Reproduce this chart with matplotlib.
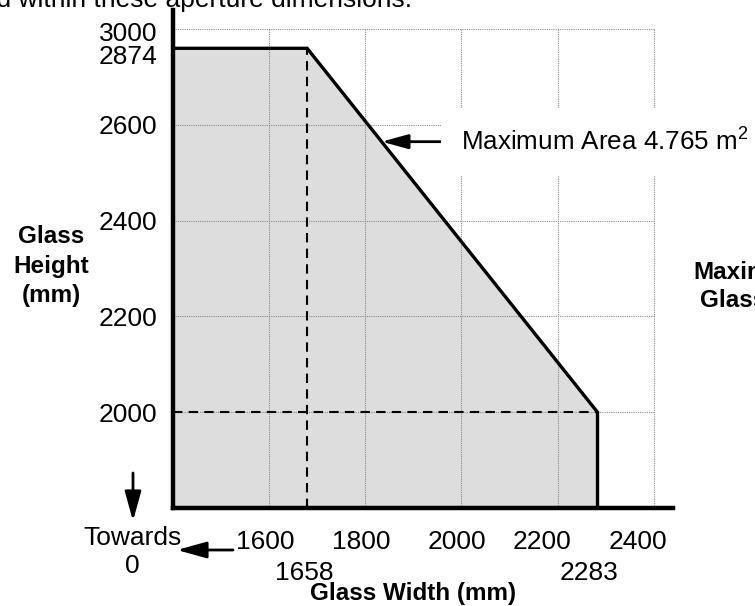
import numpy as np
import matplotlib
matplotlib.use('Agg')
import matplotlib.pyplot as plt
from matplotlib.transforms import ScaledTranslation

plt.rcParams['font.family'] = ['Liberation Sans', 'DejaVu Sans']
plt.rcParams['mathtext.default'] = 'regular'

# aperture outline (glass width / glass height, mm)
corner_w = [1400, 1658, 2283, 2283]
corner_h = [2874, 2874, 2000, 1800]
max_w, max_h = 1658, 2874
min_h, max_w_edge = 2000, 2283
area_y = 2565

grid_x = [1600, 1800, 2000, 2200, 2400]
grid_y = [2000, 2200, 2400, 2600, 3000]
ytick_vals = [2000, 2200, 2400, 2600, 2874, 3000]
xtick_major = [1600, 1800, 2000, 2200, 2400]
xtick_minor = [1658, 2283]
area_label = 'Maximum Area 4.765 m$^2$'

# schematic (non-linear) axes: knots of data -> drawn position
x_knots, x_pos = [1400, 1600, 1658, 1800, 2440], [1400, 1600, 1679, 1800, 2440]
y_knots, y_pos = [1800, 2600, 2874, 3000, 3100], [1800, 2600, 2760, 2800, 2840]


def piecewise(xp, fp):
    xp = np.asarray(xp, float)
    fp = np.asarray(fp, float)
    s0 = (fp[1] - fp[0]) / (xp[1] - xp[0])
    s1 = (fp[-1] - fp[-2]) / (xp[-1] - xp[-2])

    def f(v):
        v = np.asarray(v, float)
        out = np.interp(v, xp, fp)
        out = np.where(v < xp[0], fp[0] + (v - xp[0]) * s0, out)
        out = np.where(v > xp[-1], fp[-1] + (v - xp[-1]) * s1, out)
        return out
    return f


def fig_xy(px, py):
    return px / 755, 1 - py / 606


fig = plt.figure(figsize=(7.55, 6.06), dpi=100)
ax = fig.add_axes([173 / 755, 98 / 606, 500 / 755, 498 / 606])
ax.set_xscale('function', functions=(piecewise(x_knots, x_pos), piecewise(x_pos, x_knots)))
ax.set_yscale('function', functions=(piecewise(y_knots, y_pos), piecewise(y_pos, y_knots)))
ax.set_xlim(1400, 2440)
ax.set_ylim(1800, 3100)

# grey aperture region + outline
ax.fill_between(corner_w, corner_h, 1800, color='#dddddd', lw=0, zorder=1)
ax.vlines(grid_x, 1800, 3000, colors='#8a8a8a', linestyles=(0, (1, 1)), lw=0.8, zorder=2)
ax.hlines(grid_y, 1400, 2400, colors='#8a8a8a', linestyles=(0, (1, 1)), lw=0.8, zorder=2)
ax.plot([max_w, max_w], [1800, max_h], color='k', lw=1.5, ls=(0, (4.5, 3)), zorder=3)
ax.plot([1400, max_w_edge], [min_h, min_h], color='k', lw=1.5, ls=(0, (4.5, 3)), zorder=3)
ax.plot(corner_w, corner_h, color='k', lw=2.4, solid_joinstyle='miter', zorder=4)

for side in ['top', 'right']:
    ax.spines[side].set_visible(False)
for side in ['left', 'bottom']:
    ax.spines[side].set_linewidth(3.2)

ax.set_xticks(xtick_major)
ax.set_xticklabels([str(v) for v in xtick_major])
ax.set_xticks(xtick_minor, minor=True)
ax.set_xticklabels([str(v) for v in xtick_minor], minor=True)
ax.set_yticks(ytick_vals)
ax.set_yticklabels([str(v) for v in ytick_vals])
ax.tick_params(axis='x', which='major', length=0, pad=16, labelsize=19)
ax.tick_params(axis='x', which='minor', length=0, pad=38, labelsize=19)
ax.tick_params(axis='y', length=0, pad=11, labelsize=19)

# small nudges so labels sit like in the drawing
x_shift = {1600: -4, 1800: -4, 2000: -5, 2200: -16, 2400: -16, 1658: -3, 2283: -9}
for tick, v in zip(ax.xaxis.get_major_ticks(), xtick_major):
    tick.label1.set_transform(tick.label1.get_transform() + ScaledTranslation(x_shift[v] / 100, 0, fig.dpi_scale_trans))
for tick, v in zip(ax.xaxis.get_minor_ticks(), xtick_minor):
    tick.label1.set_transform(tick.label1.get_transform() + ScaledTranslation(x_shift[v] / 100, 0, fig.dpi_scale_trans))
y_shift = {3000: -2, 2874: -6}
for tick, v in zip(ax.yaxis.get_major_ticks(), ytick_vals):
    if v in y_shift:
        tick.label1.set_transform(tick.label1.get_transform() + ScaledTranslation(0, y_shift[v] / 100, fig.dpi_scale_trans))

# arrow tip on the sloped edge
fig.canvas.draw()
p1 = ax.transData.transform((max_w, max_h))
p2 = ax.transData.transform((max_w_edge, min_h))
yd = ax.transData.transform((max_w, area_y))[1]
xd = p1[0] + (yd - p1[1]) / (p2[1] - p1[1]) * (p2[0] - p1[0])
tip = ax.transData.inverted().transform((xd, yd))

ax.annotate(area_label, xy=tip, xytext=(2000, area_y), ha='left', va='center', fontsize=18.7,
            bbox=dict(boxstyle='square,pad=0.78', fc='white', ec='none'),
            arrowprops=dict(arrowstyle='-|>,head_length=0.8,head_width=0.22', color='k', lw=2,
                            mutation_scale=20, shrinkA=0, shrinkB=0), zorder=5)

# texts around the chart
fig.text(*fig_xy(51, 266), 'Glass\nHeight\n(mm)', ha='center', va='center', fontsize=17.5,
         fontweight='bold', linespacing=1.35)
fig.text(*fig_xy(413, 600), 'Glass Width (mm)', ha='center', va='baseline', fontsize=17.5, fontweight='bold')
fig.text(*fig_xy(412, 7), 'Glass must be contained within these aperture dimensions.', ha='right',
         va='baseline', fontsize=19)
fig.text(*fig_xy(693, 279), 'Maximum', ha='left', va='baseline', fontsize=17.5, fontweight='bold')
fig.text(*fig_xy(700, 307), 'Glass Area', ha='left', va='baseline', fontsize=17.5, fontweight='bold')
fig.text(*fig_xy(132, 552), 'Towards\n0', ha='center', va='center', fontsize=19, linespacing=1.2)

ax.annotate('', xy=fig_xy(133, 521), xytext=fig_xy(133, 473), xycoords='figure fraction',
            arrowprops=dict(arrowstyle='-|>,head_length=0.9,head_width=0.25', color='k', lw=2,
                            mutation_scale=20, shrinkA=0, shrinkB=0), annotation_clip=False)
ax.annotate('', xy=fig_xy(177, 550), xytext=fig_xy(233, 550), xycoords='figure fraction',
            arrowprops=dict(arrowstyle='-|>,head_length=0.9,head_width=0.25', color='k', lw=2,
                            mutation_scale=20, shrinkA=0, shrinkB=0), annotation_clip=False)

fig.savefig('out.png', dpi=100)
